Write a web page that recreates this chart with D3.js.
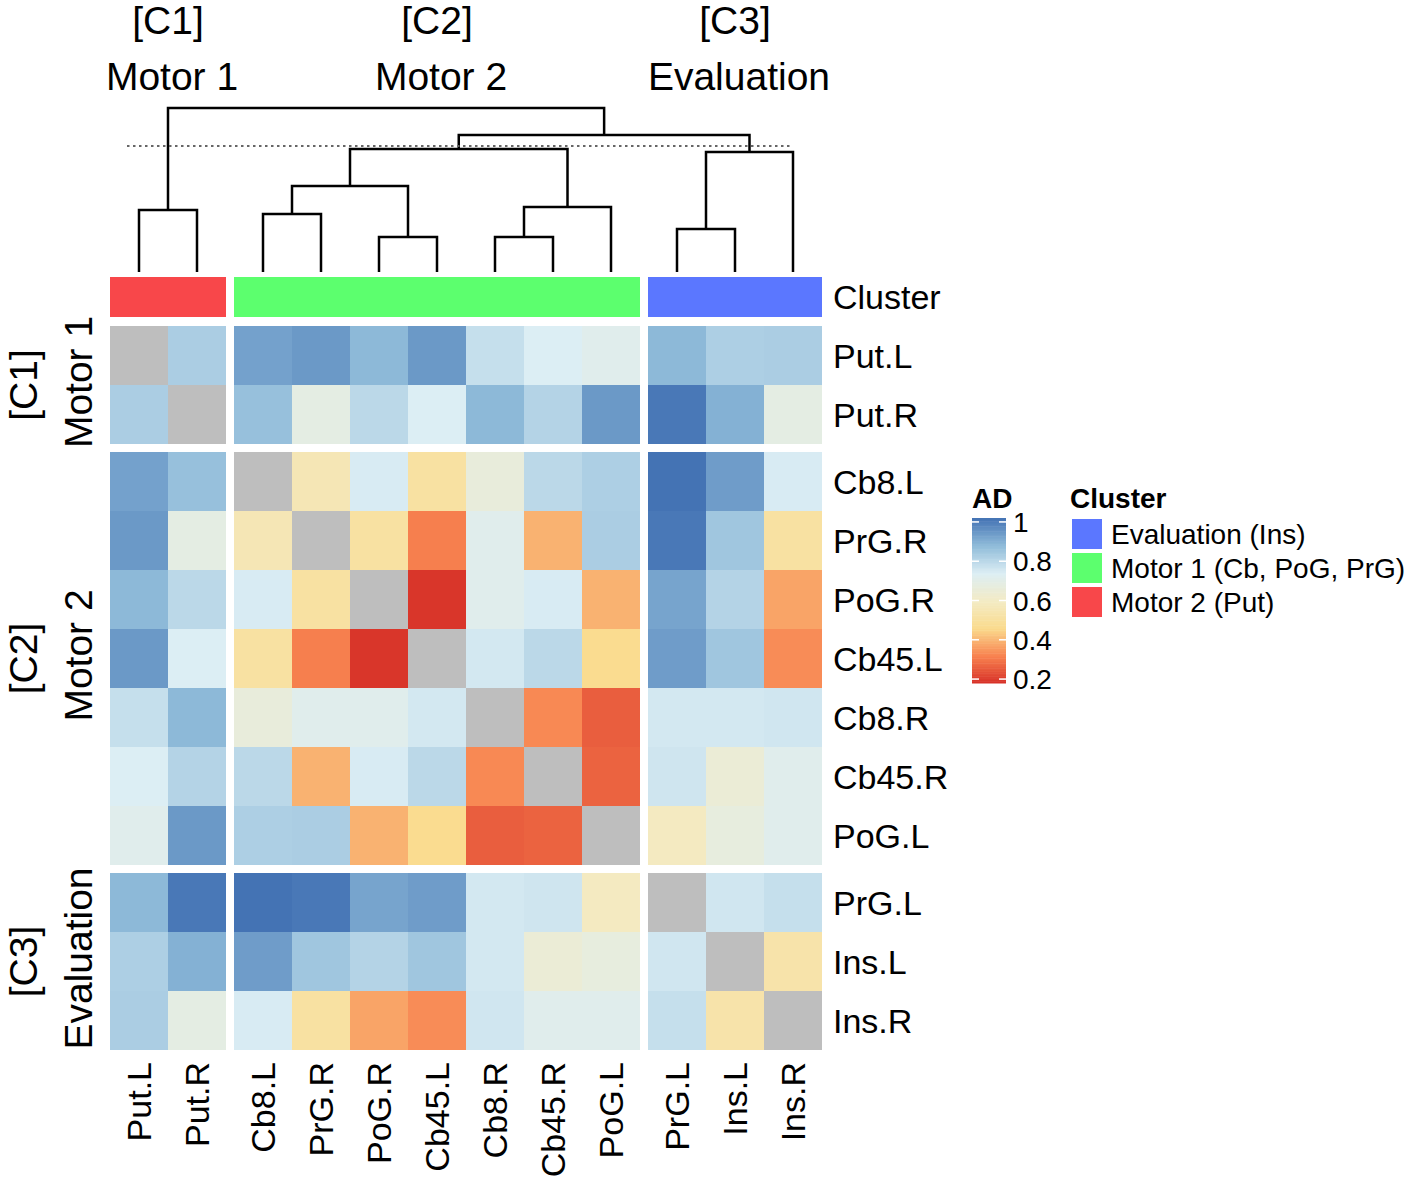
<!DOCTYPE html>
<html>
<head>
<meta charset="utf-8">
<title>AD heatmap</title>
<script src="https://d3js.org/d3.v7.min.js"></script>
<style>
  body { margin: 0; background: #fff; }
  svg text { font-family: "Liberation Sans", Arial, sans-serif; fill: #000; }
</style>
</head>
<body>
<svg id="chart" width="1415" height="1177"></svg>
<script>
// regions, in clustered order (rows and columns are the same)
var regions = ["Put.L", "Put.R", "Cb8.L", "PrG.R", "PoG.R", "Cb45.L", "Cb8.R",
  "Cb45.R", "PoG.L", "PrG.L", "Ins.L", "Ins.R"];
var groupOf = [0, 0, 1, 1, 1, 1, 1, 1, 1, 2, 2, 2];
var groupTags = ["[C1]", "[C2]", "[C3]"];
var groupNames = ["Motor 1", "Motor 2", "Evaluation"];
var groupColors = ["#F8474A", "#5CFF6E", "#5B77FF"];

// AD values, null = diagonal
var ad = [
  [null, .83, .93, .947, .884, .947, .782, .74, .715, .884, .825, .83],
  [.83, null, .866, .69, .80, .74, .884, .813, .947, 1.01, .90, .69],
  [.93, .866, null, .56, .747, .51, .665, .80, .825, 1.02, .94, .747],
  [.947, .69, .56, null, .51, .313, .715, .394, .83, 1.01, .85, .51],
  [.884, .80, .747, .51, null, .19, .715, .747, .394, .925, .813, .372],
  [.947, .74, .51, .313, .19, null, .757, .80, .465, .94, .85, .335],
  [.782, .884, .665, .715, .715, .757, null, .33, .257, .757, .757, .762],
  [.74, .813, .80, .394, .747, .80, .33, null, .266, .764, .65, .715],
  [.715, .947, .825, .83, .394, .465, .257, .266, null, .59, .673, .715],
  [.884, 1.01, 1.02, 1.01, .925, .94, .757, .764, .59, null, .762, .782],
  [.825, .90, .94, .85, .813, .85, .757, .65, .673, .762, null, .53],
  [.83, .69, .747, .51, .372, .335, .762, .715, .715, .782, .53, null]
];

// column dendrogram: [left, right, height]; leaf = index, node = "n" + merge index
var merges = [
  [4, 5, 0.35],
  [6, 7, 0.35],
  [9, 10, 0.43],
  [2, 3, 0.58],
  [0, 1, 0.62],
  ["n1", 8, 0.65],
  ["n3", "n0", 0.86],
  ["n2", 11, 1.20],
  ["n6", "n5", 1.23],
  ["n8", "n7", 1.37],
  ["n4", "n9", 1.64]
];
var cutHeight = 1.26;

var adTicks = [0.2, 0.4, 0.6, 0.8, 1];
var adStops = [0.18, 0.32, 0.46, 0.60, 0.74, 0.88, 1.02];
var adPalette = ["#D73027", "#F88350", "#FADB8E", "#F3EBC5", "#DCEEF4", "#8FBBD9", "#4473B4"];
var clusterLegend = ["Evaluation (Ins)", "Motor 1 (Cb, PoG, PrG)", "Motor 2 (Put)"];
var clusterLegendColors = ["#5B77FF", "#5CFF6E", "#F8474A"];

var svg = d3.select("#chart");
var n = regions.length;
var gap = 8;

var color = d3.scaleLinear().domain(adStops).range(adPalette);

var xb = d3.scaleBand().domain(d3.range(n)).range([110, 110 + 58 * n]);
var yb = d3.scaleBand().domain(d3.range(n)).range([326, 326 + 59 * n]);
function cx(i) { return xb(i) + groupOf[i] * gap; }
function cy(i) { return yb(i) + groupOf[i] * gap; }

// heatmap cells
var cells = [];
ad.forEach(function(row, r) {
  row.forEach(function(v, c) { cells.push({r: r, c: c, v: v}); });
});
svg.append("g").selectAll("rect").data(cells).join("rect")
  .attr("x", function(d) { return cx(d.c); })
  .attr("y", function(d) { return cy(d.r); })
  .attr("width", xb.bandwidth())
  .attr("height", yb.bandwidth())
  .attr("fill", function(d) { return d.v === null ? "#BEBEBE" : color(d.v); });

// cluster annotation bar
var groupIdx = [0, 1, 2];
function groupSpan(g) {
  var idx = d3.range(n).filter(function(i) { return groupOf[i] === g; });
  return [cx(idx[0]), cx(idx[idx.length - 1]) + xb.bandwidth()];
}
function groupSpanY(g) {
  var idx = d3.range(n).filter(function(i) { return groupOf[i] === g; });
  return [cy(idx[0]), cy(idx[idx.length - 1]) + yb.bandwidth()];
}
svg.append("g").selectAll("rect").data(groupIdx).join("rect")
  .attr("x", function(g) { return groupSpan(g)[0]; })
  .attr("y", 277)
  .attr("width", function(g) { return groupSpan(g)[1] - groupSpan(g)[0]; })
  .attr("height", 40)
  .attr("fill", function(g) { return groupColors[g]; });

// dendrogram
var hy = d3.scaleLinear().domain([0, 1.64]).range([272, 108]);
var nodeX = {}, nodeH = {};
function px(k) { return typeof k === "number" ? cx(k) + xb.bandwidth() / 2 : nodeX[k]; }
function ph(k) { return typeof k === "number" ? 0 : nodeH[k]; }
var dend = svg.append("g").attr("fill", "none").attr("stroke", "#000").attr("stroke-width", 2.5);
merges.forEach(function(m, i) {
  var x1 = px(m[0]), x2 = px(m[1]);
  var h1 = ph(m[0]), h2 = ph(m[1]);
  dend.append("path").attr("d",
    "M" + x1 + "," + hy(h1) + "V" + hy(m[2]) + "H" + x2 + "V" + hy(h2));
  nodeX["n" + i] = (x1 + x2) / 2;
  nodeH["n" + i] = m[2];
});
svg.append("line")
  .attr("x1", 127).attr("x2", 793)
  .attr("y1", hy(cutHeight)).attr("y2", hy(cutHeight))
  .attr("stroke", "#666").attr("stroke-width", 2)
  .attr("stroke-dasharray", "2.5,3.5");

// row labels
var rowLab = svg.append("g").style("font-size", "34px");
rowLab.append("text").attr("x", 833).attr("y", 297 + 12).text("Cluster");
rowLab.selectAll("text.r").data(regions).join("text").attr("class", "r")
  .attr("x", 833)
  .attr("y", function(d, i) { return cy(i) + yb.bandwidth() / 2 + 12; })
  .text(function(d) { return d; });

// column labels
svg.append("g").style("font-size", "34px")
  .selectAll("text").data(regions).join("text")
  .attr("text-anchor", "end")
  .attr("transform", function(d, i) {
    return "translate(" + (cx(i) + xb.bandwidth() / 2 + 12) + ",1062) rotate(-90)";
  })
  .text(function(d) { return d; });

// group titles on top
var topTitles = svg.append("g").style("font-size", "39px").attr("text-anchor", "middle");
groupIdx.forEach(function(g) {
  var s = groupSpan(g), mid = (s[0] + s[1]) / 2;
  topTitles.append("text").attr("x", mid).attr("y", 34).text(groupTags[g]);
  topTitles.append("text").attr("x", mid + 4).attr("y", 90).text(groupNames[g]);
});

// group titles on the left
var leftTitles = svg.append("g").style("font-size", "39px").attr("text-anchor", "middle");
groupIdx.forEach(function(g) {
  var s = groupSpanY(g), mid = (s[0] + s[1]) / 2;
  leftTitles.append("text").attr("transform", "translate(37," + mid + ") rotate(-90)").text(groupTags[g]);
  leftTitles.append("text").attr("transform", "translate(92," + (mid - 3) + ") rotate(-90)").text(groupNames[g]);
});

// AD colour legend
var ly = d3.scaleLinear().domain([0.18, 1.02]).range([683, 518]);
var lg = svg.append("g");
lg.append("text").attr("x", 972).attr("y", 508).style("font-size", "28px")
  .style("font-weight", "bold").text("AD");
var steps = d3.range(100).map(function(i) { return 0.18 + (1.02 - 0.18) * i / 100; });
var stepH = (683 - 518) / 100;
lg.selectAll("rect").data(steps).join("rect")
  .attr("x", 972).attr("width", 34)
  .attr("y", function(d) { return ly(d) - stepH; })
  .attr("height", stepH + 0.5)
  .attr("fill", function(d) { return color(d + 0.0042); });
adTicks.forEach(function(t) {
  lg.append("line").attr("x1", 972).attr("x2", 979).attr("y1", ly(t)).attr("y2", ly(t))
    .attr("stroke", "#fff").attr("stroke-width", 1.5);
  lg.append("line").attr("x1", 999).attr("x2", 1006).attr("y1", ly(t)).attr("y2", ly(t))
    .attr("stroke", "#fff").attr("stroke-width", 1.5);
  lg.append("text").attr("x", 1013).attr("y", ly(t) + 10).style("font-size", "28px")
    .text(d3.format("~g")(t));
});

// cluster legend
var cl = svg.append("g");
cl.append("text").attr("x", 1070).attr("y", 508).style("font-size", "28px")
  .style("font-weight", "bold").text("Cluster");
clusterLegend.forEach(function(name, i) {
  cl.append("rect").attr("x", 1072).attr("y", 519 + i * 34)
    .attr("width", 30).attr("height", 30).attr("fill", clusterLegendColors[i]);
  cl.append("text").attr("x", 1111).attr("y", 544 + i * 34).style("font-size", "28px").text(name);
});
</script>
</body>
</html>
